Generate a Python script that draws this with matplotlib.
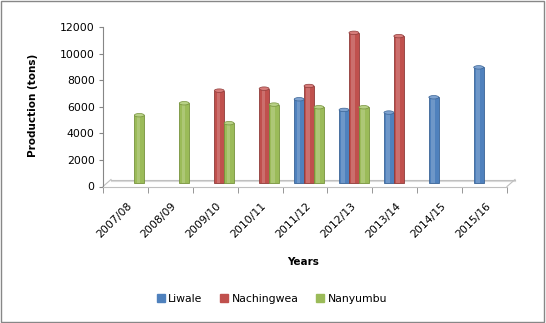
import numpy as np
import matplotlib
matplotlib.use("Agg")
import matplotlib.pyplot as plt
import matplotlib.transforms as mtrans
from matplotlib.patches import Ellipse, Rectangle
from matplotlib.lines import Line2D

plt.rcParams['font.family'] = ['DejaVu Sans']

# data (nan = no bar)
years = ["2007/08", "2008/09", "2009/10", "2010/11", "2011/12",
         "2012/13", "2013/14", "2014/15", "2015/16"]
liwale = [np.nan, np.nan, np.nan, np.nan, 6300, 5500, 5300, 6450, 8700]
nachingwea = [np.nan, np.nan, 6950, 7100, 7300, 11300, 11050, np.nan, np.nan]
nanyumbu = [5100, 6000, 4500, 5900, 5700, 5700, np.nan, np.nan, np.nan]

names = ["Liwale", "Nachingwea", "Nanyumbu"]
colors = ["#4F81BD", "#C0504D", "#9BBB59"]
edges = ["#3A6496", "#8E3B39", "#76923C"]
caps = ["#7FA3D0", "#D77C7A", "#B8D186"]

fig = plt.figure(figsize=(5.46, 3.23), dpi=100)
ax = fig.add_axes([103/546, 1-186.5/323, 404/546, 159.5/323])

# 3d look: bars sit a bit back on the floor
depth = mtrans.offset_copy(ax.transData, fig=fig, x=4, y=3.5, units='dots')

x = np.arange(len(years))
w = 0.22
for k, vals in enumerate([liwale, nachingwea, nanyumbu]):
    xs = x + (k - 1) * w
    ax.bar(xs, vals, width=w, color=colors[k], edgecolor=edges[k],
           linewidth=0.6, transform=depth, zorder=3)
    # soft highlight to look like a cylinder
    ax.bar(xs - w * 0.08, vals, width=w * 0.35, color='white', alpha=0.18,
           linewidth=0, transform=depth, zorder=3.5)
    for xi, v in zip(xs, vals):
        if np.isnan(v):
            continue
        ax.add_patch(Ellipse((xi, v), w, 260, facecolor=caps[k],
                             edgecolor=edges[k], linewidth=0.5,
                             transform=depth, zorder=4))

ax.set_xlim(-0.5, len(years) - 0.5)
ax.set_ylim(0, 12000)
ax.set_yticks(np.arange(0, 12001, 2000))
ax.set_xticks(x)
ax.set_xticklabels(years, rotation=45, ha='right', va='center',
                   rotation_mode='anchor')
ax.set_xticks(np.arange(-0.5, len(years)), minor=True)
ax.tick_params(axis='x', which='major', length=0, pad=13, labelsize=7.8)
ax.tick_params(axis='x', which='minor', length=4, color='#868686', direction='out')
ax.tick_params(axis='y', length=3, color='#868686', labelsize=7.8, pad=3)
shift = mtrans.ScaledTranslation(4.5/100, 0, fig.dpi_scale_trans)
for lab in ax.get_xticklabels():
    lab.set_transform(lab.get_transform() + shift)

for s in ['top', 'right']:
    ax.spines[s].set_visible(False)
ax.spines['left'].set_color('#868686')
ax.spines['bottom'].set_color('#BFBFBF')
ax.patch.set_visible(False)

# floor outline
back = mtrans.offset_copy(ax.transAxes, fig=fig, x=8, y=7, units='dots')
ax.plot([0, 1], [0, 0], transform=back, color='#BFBFBF', lw=0.8, clip_on=False, zorder=1)
ax.plot([0, 1], [-0.012, -0.012], transform=back, color='#D9D9D9', lw=0.8, clip_on=False, zorder=1)
for xe in [0, 1]:
    t0 = ax.transAxes.transform((xe, 0))
    ax.plot([t0[0], t0[0] + 8], [t0[1], t0[1] + 7], transform=None,
            color='#BFBFBF', lw=0.8, clip_on=False, zorder=1)

ax.set_ylabel("Production (tons)", fontsize=7.5, fontweight='bold')
ax.yaxis.set_label_coords(-0.161, 0.51)
fig.text(303/546, 1-262/323, "Years", fontsize=7.5, fontweight='bold',
         ha='center', va='center')

handles = [Line2D([], [], marker='s', ls='', color=c, markersize=6) for c in colors]
fig.legend(handles, names, loc='center', bbox_to_anchor=(0.498, 1-299/323),
           ncol=3, frameon=False, fontsize=7.8, handletextpad=0.3,
           columnspacing=1.6, handlelength=0.8)

fig.add_artist(Rectangle((0.002, 0.004), 0.994, 0.992, transform=fig.transFigure,
                         fill=False, edgecolor='#878787', lw=1))

fig.savefig("out.png", dpi=100)
